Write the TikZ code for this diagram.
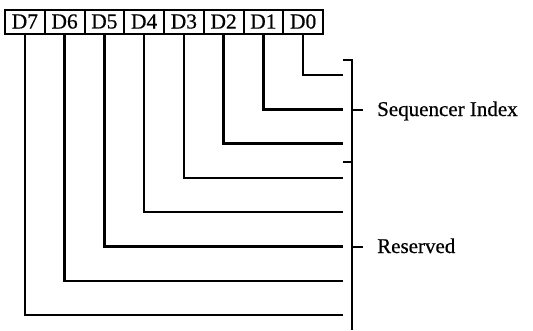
\documentclass[tikz,border=0pt]{standalone}
\usepackage{fontspec}
\setmainfont{Liberation Serif}
\newfontfamily\heavyserif{Liberation Serif}[BoldFont=Liberation Serif,BoldFeatures={FakeBold=0.6}]
\begin{document}
\begin{tikzpicture}[x=1pt,y=-1pt,
  bitbox/.style={draw,line width=2pt,minimum width=39.75pt,minimum height=24pt,inner sep=0pt,font=\heavyserif\bfseries\fontsize{21.5}{22}\selectfont},
  wire/.style={line width=2.4pt},
  lbl/.style={anchor=base west,inner sep=0pt,font=\heavyserif\bfseries\fontsize{21}{22}\selectfont}]
\useasboundingbox (0,0) rectangle (533,330);
\foreach \i/\n in {0/7,1/6,2/5,3/4,4/3,5/2,6/1,7/0}{
  \node[bitbox] (b\n) at ({24.875+39.75*\i},21.5) {D\n};
}
\foreach \n/\y in {0/75,1/109.3,2/143.6,3/177.9,4/212.2,5/246.5,6/280.8,7/315.1}{
  \coordinate (e\n) at (343,\y);
  \draw[wire] (b\n.south) |- (e\n);
}
% brackets
\coordinate (t1) at (343,60);
\coordinate (m1) at (363,110);
\coordinate (j) at (343,162);
\coordinate (m2) at (363,247);
\draw[wire] (t1) -| (352,162) -- (j);
\draw[wire] (352,162) -- (352,330);
\draw[wire] (352,110) -- (m1);
\draw[wire] (352,247) -- (m2);
\node[lbl] (s) at (377,116) {Sequencer Index};
\node[lbl] (r) at (377,253) {Reserved};
\end{tikzpicture}
\end{document}
